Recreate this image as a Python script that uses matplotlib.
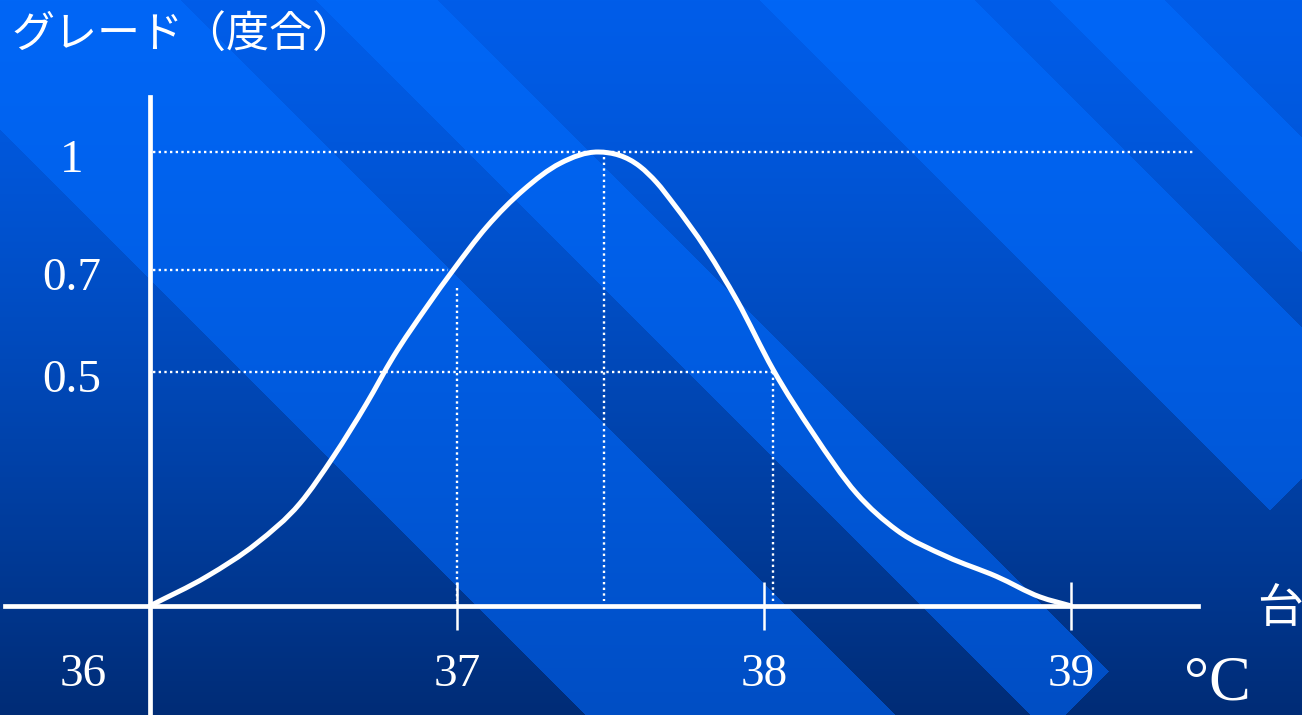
import matplotlib
matplotlib.use("Agg")
import matplotlib.pyplot as plt
import numpy as np
from matplotlib.path import Path
from matplotlib.patches import PathPatch

# membership curve: body temperature (°C) -> grade
temp = [36.0, 36.186, 36.348, 36.489, 36.598, 36.706, 36.793, 36.902, 36.988,
        37.097, 37.216, 37.336, 37.460, 37.596, 37.650, 37.704, 37.813, 37.911,
        38.030, 38.160, 38.301, 38.432, 38.594, 38.757, 38.898, 39.0]
grade = [0.0, 0.065, 0.138, 0.226, 0.329, 0.446, 0.549, 0.659, 0.740,
         0.835, 0.916, 0.975, 1.0, 0.968, 0.933, 0.887, 0.784, 0.674,
         0.520, 0.380, 0.248, 0.167, 0.109, 0.065, 0.020, 0.0]

x_ticks = [37, 38, 39]
x_labels = ["36", "37", "38", "39"]
x_label_at = [36, 37, 38, 39]
y_levels = [1.0, 0.74, 0.515]
y_labels = ["1", "0.7", "0.5"]

# dotted guide lines: (level, end of the horizontal) and (x, top of the vertical)
h_guides = [(1.0, 39.40), (0.74, 36.97), (0.515, 38.04)]
v_guides = [(37.0, 0.70), (37.48, 0.99), (38.03, 0.515)]

W, H = 1302, 715
fig = plt.figure(figsize=(W / 100, H / 100), dpi=100)

# slide background: vertical blue gradient with lighter diagonal stripes
bg = fig.add_axes([0, 0, 1, 1])
py, px = np.mgrid[0:H, 0:W]
t = ((py / (H - 1)) ** 1.3)[..., None]
base = np.array([0, 93, 233]) * (1 - t) + np.array([0, 44, 118]) * t
light = np.array([0, 102, 246]) * (1 - t) + np.array([0, 78, 196]) * t
d = py - px
band = np.zeros((H, W), bool)
for lo, hi in [(-181, 130), (-438, -315), (-975, -759), (-1165, -1049)]:
    band |= (d > lo) & (d < hi)
band &= (py + px) < 1780
img = np.where(band[..., None], light, base) / 255.0
bg.imshow(img, aspect="auto", interpolation="bilinear")
bg.axis("off")

ax = fig.add_axes([0, 0, 1, 1])
ax.patch.set_alpha(0)
ax.set_xlim(35.5127, 39.751)
ax.set_ylim(-0.2401, 1.3348)

for s in ["top", "right"]:
    ax.spines[s].set_visible(False)
ax.spines["bottom"].set_position(("data", 0))
ax.spines["bottom"].set_bounds(35.529, 39.413)
ax.spines["left"].set_position(("data", 36))
ax.spines["left"].set_bounds(-0.2401, 1.121)
for s in ["bottom", "left"]:
    ax.spines[s].set_color("white")
    ax.spines[s].set_linewidth(3.4)

ax.set_xticks(x_ticks)
ax.set_yticks([])
ax.tick_params(axis="x", direction="inout", length=34, width=1.8,
               color="white", labelbottom=False)

dot = dict(color="white", lw=1.7, linestyle=(0, (1, 1.4)), zorder=2)
for lvl, xe in h_guides:
    ax.plot([36.01, xe], [lvl, lvl], **dot)
for xv, yt in v_guides:
    ax.plot([xv, xv], [yt, 0.01], **dot)

# smooth curve through the traced points: cubic Hermite in x drawn as Beziers
xs = np.array(temp)
ys = np.array(grade)
h = np.diff(xs)
sl = np.diff(ys) / h
m = np.empty_like(xs)
m[0], m[-1] = sl[0], sl[-1]
m[1:-1] = (h[:-1] * sl[1:] + h[1:] * sl[:-1]) / (h[:-1] + h[1:])
verts = [(xs[0], ys[0])]
codes = [Path.MOVETO]
for i in range(len(xs) - 1):
    verts += [(xs[i] + h[i] / 3, ys[i] + m[i] * h[i] / 3),
              (xs[i + 1] - h[i] / 3, ys[i + 1] - m[i + 1] * h[i] / 3),
              (xs[i + 1], ys[i + 1])]
    codes += [Path.CURVE4] * 3
ax.add_patch(PathPatch(Path(verts, codes), fill=False, edgecolor="white",
                       lw=3.6, capstyle="round", joinstyle="round", zorder=3))

serif = ["Liberation Serif", "DejaVu Serif"]
jp = ["Noto Sans CJK JP", "DejaVu Sans"]

for lab, xv in zip(x_labels, x_label_at):
    dx = -67 if xv == 36 else 0
    ax.annotate(lab, xy=(xv, 0), xytext=(dx, -80), textcoords="offset pixels",
                ha="center", va="baseline", color="white", fontsize=34,
                family=serif, annotation_clip=False)

for lab, lvl in zip(y_labels, y_levels):
    ax.annotate(lab, xy=(36, lvl), xytext=(-78, -20), textcoords="offset pixels",
                ha="center", va="baseline", color="white", fontsize=34,
                family=serif)

fig.text(12 / W, 1 - 36 / H, "グレード（度合）", ha="left", va="center",
         color="white", fontsize=31, family=jp)
fig.text(1217 / W, 1 - 700 / H, "°C", ha="center", va="baseline",
         color="white", fontsize=45, family=serif)
fig.text(1257 / W, 1 - 609 / H, "台", ha="left", va="center",
         color="white", fontsize=33, family=jp)

fig.savefig("out.png", dpi=100)
